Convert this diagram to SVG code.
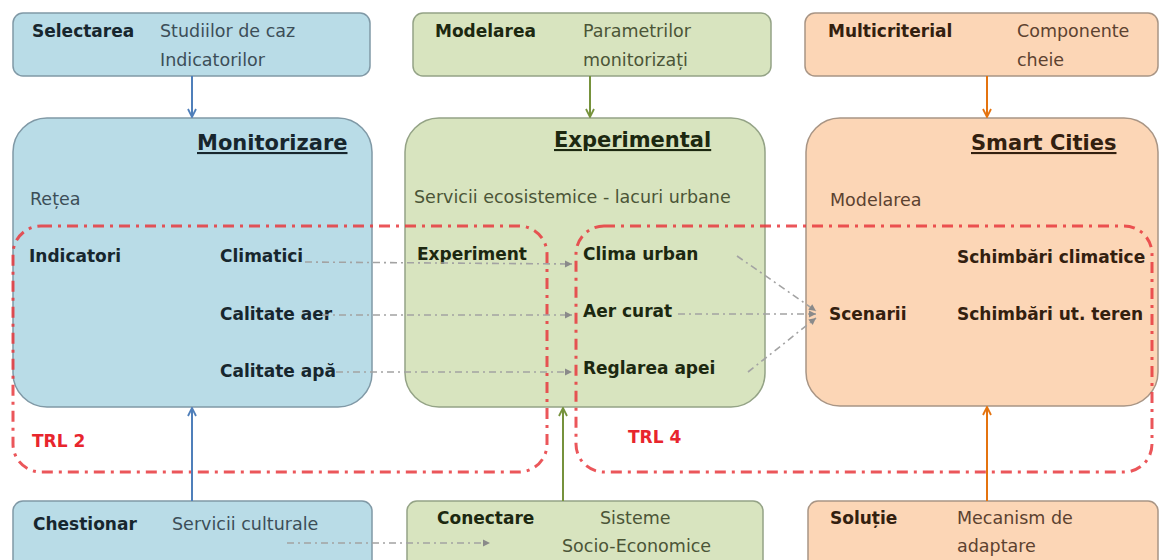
<svg xmlns="http://www.w3.org/2000/svg" width="1161" height="560" viewBox="0 0 1161 560">
<style>
text{font-family:"DejaVu Sans","Liberation Sans",sans-serif;}
.b{font-weight:bold;font-size:17px;}
.r{font-size:17.5px;}
.t{font-weight:bold;font-size:21px;text-decoration:underline;}
.blue{fill:#b9dce7;stroke:#8099a6;stroke-width:1.5;}
.green{fill:#d8e4bf;stroke:#94a386;stroke-width:1.5;}
.orange{fill:#fcd6b6;stroke:#a89585;stroke-width:1.5;}
.tb{fill:#17262e;} .rb{fill:#3c4e58;}
.tg{fill:#1c2810;} .rg{fill:#4b5537;}
.to{fill:#33200f;} .ro{fill:#5c4230;}
.trl{fill:none;stroke:#e8383d;stroke-opacity:0.85;stroke-width:3;stroke-dasharray:11 6 3 6;}
.g{fill:none;stroke:#a3a3a3;stroke-width:1.6;stroke-dasharray:7 4 2 4;}
.lbl{font-weight:bold;font-size:17px;fill:#e8252d;}
</style>
<defs>
<marker id="ab" markerWidth="10" markerHeight="10" refX="9" refY="5" orient="auto" markerUnits="userSpaceOnUse"><path d="M1,1 L9,5 L1,9" fill="none" stroke="#4f7fba" stroke-width="1.8"/></marker>
<marker id="ag" markerWidth="10" markerHeight="10" refX="9" refY="5" orient="auto" markerUnits="userSpaceOnUse"><path d="M1,1 L9,5 L1,9" fill="none" stroke="#76923c" stroke-width="1.8"/></marker>
<marker id="ao" markerWidth="10" markerHeight="10" refX="9" refY="5" orient="auto" markerUnits="userSpaceOnUse"><path d="M1,1 L9,5 L1,9" fill="none" stroke="#e4730f" stroke-width="1.8"/></marker>
<marker id="ay" markerWidth="9" markerHeight="9" refX="8" refY="4.5" orient="auto" markerUnits="userSpaceOnUse"><path d="M1,1 L8,4.5 L1,8 Z" fill="#8a8a8a"/></marker>
</defs>

<g id="top-monitorizare">
<rect class="blue" x="13" y="13" width="357" height="63" rx="10"/>
<text class="b tb" x="32" y="37">Selectarea</text>
<text class="r rb" x="160" y="37">Studiilor de caz</text>
<text class="r rb" x="160" y="66">Indicatorilor</text>
</g>
<g id="top-experimental">
<rect class="green" x="413" y="13" width="358" height="63" rx="10"/>
<text class="b tg" x="435" y="37">Modelarea</text>
<text class="r rg" x="583" y="37">Parametrilor</text>
<text class="r rg" x="583" y="66">monitorizați</text>
</g>
<g id="top-smart">
<rect class="orange" x="805" y="13" width="353" height="63" rx="10"/>
<text class="b to" x="828" y="37">Multicriterial</text>
<text class="r ro" x="1017" y="37">Componente</text>
<text class="r ro" x="1017" y="66">cheie</text>
</g>

<g id="monitorizare">
<rect class="blue" x="13" y="118" width="359" height="289" rx="34"/>
<text class="t tb" x="197" y="150">Monitorizare</text>
<text class="r rb" x="30" y="205">Rețea</text>
<text class="b tb" x="29" y="262">Indicatori</text>
<text class="b tb" x="220" y="262">Climatici</text>
<text class="b tb" x="220" y="320">Calitate aer</text>
<text class="b tb" x="220" y="377">Calitate apă</text>
</g>
<g id="experimental">
<rect class="green" x="405" y="118" width="360" height="289" rx="34"/>
<text class="t tg" x="554" y="147">Experimental</text>
<text class="r rg" x="414" y="203">Servicii ecosistemice - lacuri urbane</text>
<text class="b tg" x="417" y="260">Experiment</text>
<text class="b tg" x="583" y="260">Clima urban</text>
<text class="b tg" x="583" y="317">Aer curat</text>
<text class="b tg" x="583" y="374">Reglarea apei</text>
</g>
<g id="smart-cities">
<rect class="orange" x="806" y="118" width="352" height="288" rx="34"/>
<text class="t to" x="971" y="150">Smart Cities</text>
<text class="r ro" x="830" y="206">Modelarea</text>
<text class="b to" x="957" y="263">Schimbări climatice</text>
<text class="b to" x="829" y="320">Scenarii</text>
<text class="b to" x="957" y="320">Schimbări ut. teren</text>
</g>

<g id="bottom-monitorizare">
<rect class="blue" x="13" y="501" width="359" height="80" rx="10"/>
<text class="b tb" x="33" y="530">Chestionar</text>
<text class="r rb" x="172" y="530">Servicii culturale</text>
</g>
<g id="bottom-experimental">
<rect class="green" x="407" y="501" width="356" height="80" rx="10"/>
<text class="b tg" x="437" y="524">Conectare</text>
<text class="r rg" x="600" y="524">Sisteme</text>
<text class="r rg" x="562" y="552">Socio-Economice</text>
</g>
<g id="bottom-smart">
<rect class="orange" x="808" y="501" width="350" height="80" rx="10"/>
<text class="b to" x="830" y="524">Soluție</text>
<text class="r ro" x="957" y="524">Mecanism de</text>
<text class="r ro" x="957" y="552">adaptare</text>
</g>

<g id="trl-regions">
<rect class="trl" x="13" y="226" width="534" height="246" rx="28"/>
<rect class="trl" x="576" y="226" width="576" height="246" rx="28"/>
<text class="lbl" x="32" y="447">TRL 2</text>
<text class="lbl" x="628" y="443">TRL 4</text>
</g>

<g id="connectors">
<line x1="192" y1="76" x2="192" y2="117" stroke="#4f7fba" stroke-width="2" marker-end="url(#ab)"/>
<line x1="590" y1="76" x2="590" y2="117" stroke="#76923c" stroke-width="2" marker-end="url(#ag)"/>
<line x1="987" y1="76" x2="987" y2="117" stroke="#e4730f" stroke-width="2" marker-end="url(#ao)"/>
<line x1="192" y1="501" x2="192" y2="408" stroke="#4f7fba" stroke-width="2" marker-end="url(#ab)"/>
<line x1="563" y1="501" x2="563" y2="408" stroke="#76923c" stroke-width="2" marker-end="url(#ag)"/>
<line x1="987" y1="501" x2="987" y2="407" stroke="#e4730f" stroke-width="2" marker-end="url(#ao)"/>
<line class="g" x1="305" y1="262" x2="572" y2="264" marker-end="url(#ay)"/>
<line class="g" x1="322" y1="315" x2="572" y2="315" marker-end="url(#ay)"/>
<line class="g" x1="336" y1="372" x2="572" y2="372" marker-end="url(#ay)"/>
<line class="g" x1="737" y1="256" x2="816" y2="311" marker-end="url(#ay)"/>
<line class="g" x1="678" y1="314" x2="816" y2="314" marker-end="url(#ay)"/>
<line class="g" x1="748" y1="372" x2="816" y2="318" marker-end="url(#ay)"/>
<line class="g" x1="287" y1="543" x2="490" y2="543" marker-end="url(#ay)"/>
</g>
</svg>
